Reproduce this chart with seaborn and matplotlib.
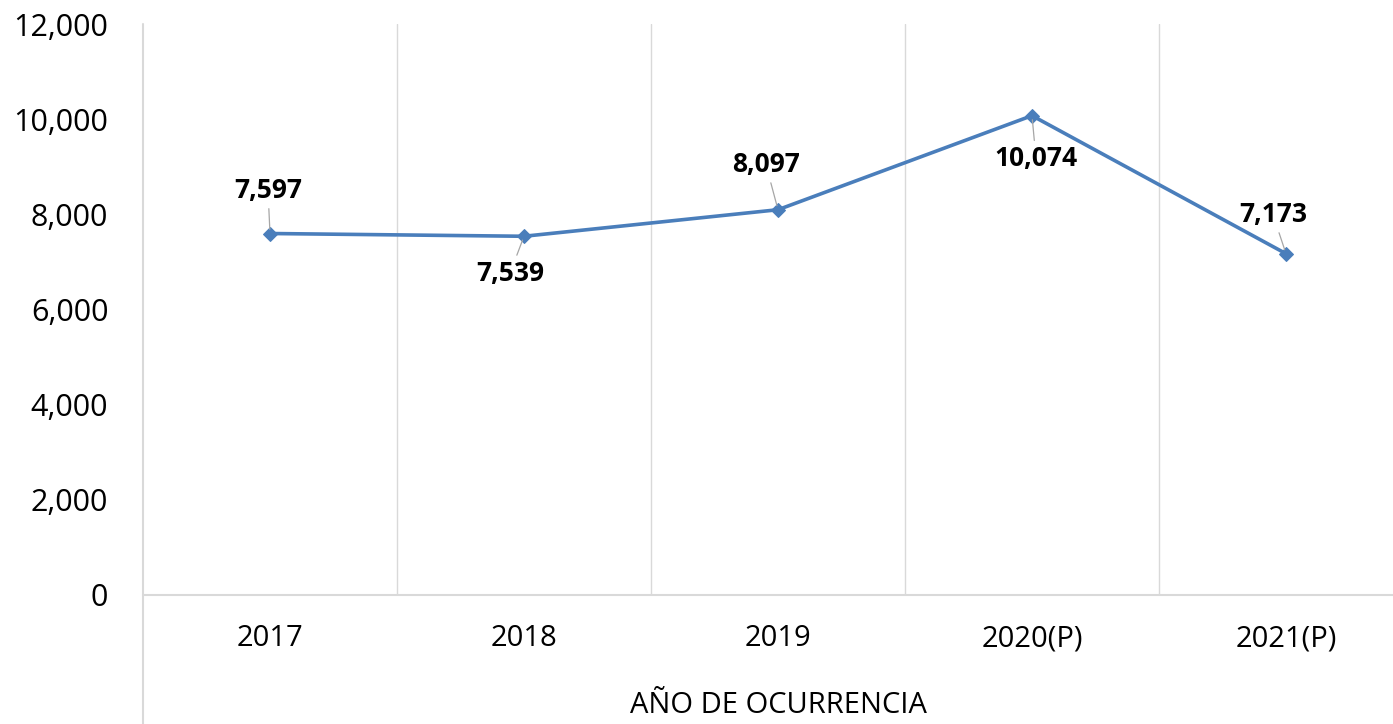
import matplotlib
matplotlib.use('Agg')
import matplotlib.pyplot as plt
import seaborn as sns
import pandas as pd
from matplotlib.ticker import FuncFormatter

years = ['2017', '2018', '2019', '2020(P)', '2021(P)']
counts = [7597, 7539, 8097, 10074, 7173]
# label offsets in pixels (dx, dy)
label_offsets = [(-2, 43), (-14, -37), (-12, 45), (4, -43), (-13, 39)]

sns.set_theme(style='white')
plt.rcParams['font.family'] = ['Open Sans', 'DejaVu Sans']

data = pd.DataFrame({'year': years, 'count': counts})

fig = plt.figure(figsize=(13.93, 7.24), dpi=100)
# axes runs past the right edge on purpose, the original is cropped there
ax = fig.add_axes([143 / 1393, 129 / 724, 1270 / 1393, 571 / 724])

blue = '#4a7ebb'
grid = '#d9d9d9'
sns.lineplot(data=data, x='year', y='count', ax=ax, color=blue, lw=2.6,
             marker='D', markersize=7, markeredgecolor=blue, sort=False)

ax.set_xlim(-0.5, 4.5)
ax.set_ylim(0, 12000)
ax.set_yticks(range(0, 12001, 2000))
ax.yaxis.set_major_formatter(FuncFormatter(lambda v, p: '{:,.0f}'.format(v)))

# vertical grid at category borders
ax.set_xticks([0.5, 1.5, 2.5, 3.5], minor=True)
ax.grid(which='minor', axis='x', color=grid, lw=1)
ax.grid(which='major', visible=False)

for s in ax.spines.values():
    s.set_visible(False)
ax.axhline(0, color=grid, lw=1.5, clip_on=False)
ax.axvline(-0.5, ymin=-0.226, ymax=1, color=grid, lw=1.5, clip_on=False)

ax.tick_params(axis='y', length=0, pad=25, labelsize=22, labelcolor='black')
ax.tick_params(axis='x', which='both', length=0, pad=21, labelsize=21, labelcolor='black')
ax.set_ylabel('')
ax.set_xlabel('AÑO DE OCURRENCIA', fontsize=21, labelpad=27, color='black')

for i, (v, off) in enumerate(zip(counts, label_offsets)):
    ax.annotate('{:,}'.format(v), xy=(i, v), xytext=(off[0] * 0.72, off[1] * 0.72),
                textcoords='offset points', ha='center', va='center',
                fontsize=19, fontweight='bold', color='black',
                arrowprops=dict(arrowstyle='-', color='#a6a6a6', lw=0.9,
                                shrinkA=1, shrinkB=3))

plt.savefig('out.png', dpi=100)
plt.close()
